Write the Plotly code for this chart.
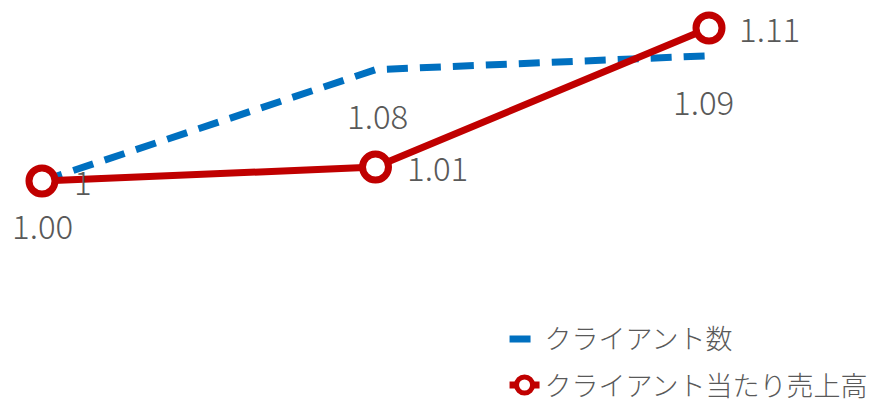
import plotly.graph_objects as go

categories = [0, 1, 2]
clients = [1.00, 1.08, 1.09]
client_labels = ["1", "1.08", "1.09"]
sales_per_client = [1.00, 1.01, 1.11]
sales_labels = ["1.00", "1.01", "1.11"]
series_names = ["クライアント数", "クライアント当たり売上高"]

BLUE = "#0070C0"
RED = "#C00000"
GREY = "#595959"
FONT = "Noto Sans CJK JP"

fig = go.Figure()
fig.add_trace(go.Scatter(
    x=categories, y=clients, mode="lines", name=series_names[0],
    line=dict(color=BLUE, width=7, dash="21px,12px"),
    legendgroup="a",
))
fig.add_trace(go.Scatter(
    x=categories, y=sales_per_client, mode="lines+markers", name=series_names[1],
    line=dict(color=RED, width=7),
    marker=dict(size=26, color="white", line=dict(color=RED, width=7)),
    legendgroup="b",
))

LABEL_FONT = dict(family=FONT, size=33, color=GREY, weight=300)

# data labels
blue_offsets = [(41, 0), (2, -45), (-6, -45)]
for xi, yi, lab, (dx, dy) in zip(categories, clients, client_labels, blue_offsets):
    fig.add_annotation(x=xi, y=yi, text=lab, showarrow=False, xshift=dx, yshift=dy,
                       font=LABEL_FONT)
red_offsets = [(1, -44), (62, 0), (60, 0)]
for xi, yi, lab, (dx, dy) in zip(categories, sales_per_client, sales_labels, red_offsets):
    fig.add_annotation(x=xi, y=yi, text=lab, showarrow=False, xshift=dx, yshift=dy,
                       font=LABEL_FONT)

fig.update_layout(
    width=879, height=405,
    margin=dict(l=0, r=0, t=0, b=0, autoexpand=False),
    paper_bgcolor="white", plot_bgcolor="white",
    xaxis=dict(range=[-0.1259, 2.5097], visible=False, fixedrange=True),
    yaxis=dict(range=[0.839, 1.1301], visible=False, fixedrange=True),
    showlegend=True,
    legend=dict(
        x=0.574, y=-0.012, xanchor="left", yanchor="bottom",
        font=dict(family=FONT, size=27, color=GREY, weight=300),
        tracegroupgap=8, bgcolor="rgba(0,0,0,0)",
    ),
)

fig.write_html("out.html")
